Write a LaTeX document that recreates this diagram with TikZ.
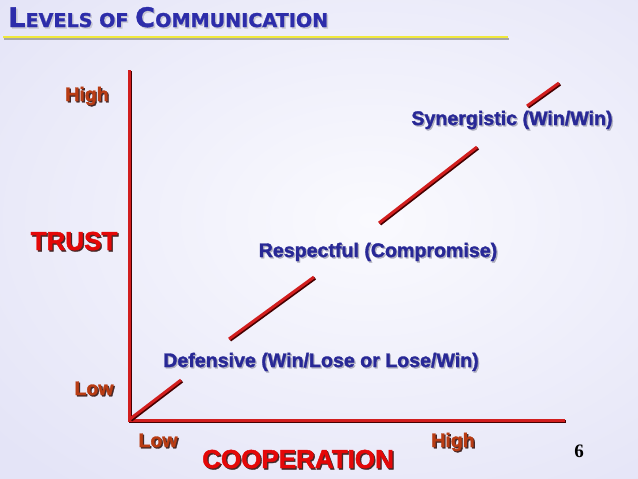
\documentclass[tikz,border=0pt]{standalone}
\usepackage{fontspec}
\setmainfont{Liberation Sans}
\newfontfamily\heavyfont[FakeBold=1.6]{Liberation Sans Bold}
\newfontfamily\titlefont[FakeBold=1.2]{DejaVu Sans Bold}
\newfontfamily\numfont{Liberation Serif}
\definecolor{bgout}{RGB}{228,228,247}
\definecolor{bgin}{RGB}{250,250,254}
\definecolor{lblue}{RGB}{40,40,150}
\definecolor{tblue}{RGB}{45,45,170}
\definecolor{lbrown}{RGB}{185,60,20}
\definecolor{bred}{RGB}{228,8,8}
\definecolor{axred}{RGB}{210,30,30}
\definecolor{axdark}{RGB}{70,0,0}
\definecolor{ulyellow}{RGB}{240,232,60}
\definecolor{shlight}{RGB}{175,175,190}
\definecolor{shdark}{RGB}{70,40,40}
\newcommand\shlbl[5]{%
  \node[#3,text=#4] (#1s) at ([shift={(1.3pt,-1.3pt)}]#2) {#5};
  \node[#3] (#1) at (#2) {#5};}
\begin{document}
\begin{tikzpicture}[x=1pt,y=-1pt,
  lbl/.style={inner sep=0pt,anchor=base,font=\heavyfont\fontsize{19.6}{20}\selectfont,text=lblue},
  tick/.style={inner sep=0pt,anchor=base,font=\heavyfont\fontsize{19.5}{20}\selectfont,text=lbrown},
  axlbl/.style={inner sep=0pt,anchor=base,font=\heavyfont\fontsize{26}{26}\selectfont,text=bred},
  redline/.style={draw=axred,line width=3pt,line cap=butt},
  darkline/.style={draw=axdark,line width=3pt,line cap=butt,transform canvas={shift={(1.2pt,-1.2pt)}}}]
\useasboundingbox (0,0) rectangle (638,479);
\shade[inner color=bgin,outer color=bgout] (-120,-120) rectangle (860,560);
% title
\node[inner sep=0pt,anchor=base west,text=shlight!70] (titles) at (9.5,28.5) {\resizebox{320pt}{20pt}{\titlefont\fontsize{27}{27}\selectfont L{\fontsize{19}{19}\selectfont EVELS OF }C{\fontsize{19}{19}\selectfont OMMUNICATION}}};
\node[inner sep=0pt,anchor=base west,text=tblue] (title) at (8,27) {\resizebox{320pt}{20pt}{\titlefont\fontsize{27}{27}\selectfont L{\fontsize{19}{19}\selectfont EVELS OF }C{\fontsize{19}{19}\selectfont OMMUNICATION}}};
\coordinate (ul1) at (3,37);
\coordinate (ul2) at (508,37);
\draw[draw=gray!70,line width=2pt,transform canvas={shift={(0.8pt,-2pt)}}] (ul1) -- (ul2);
\draw[draw=ulyellow,line width=2.5pt] (ul1) -- (ul2);
% axes
\coordinate (o) at (129,420);
\coordinate (ytop) at (129,70);
\coordinate (xend) at (565,420);
\draw[darkline] (ytop) -- (o) -- (xend);
\draw[redline,line join=miter] (ytop) -- (o) -- (xend);
% diagonal segments
\coordinate (s1a) at (130,419);
\coordinate (s1b) at (181,380);
\coordinate (s2a) at (229,339);
\coordinate (s2b) at (314,277);
\coordinate (s3a) at (379,223);
\coordinate (s3b) at (477,147);
\coordinate (s4a) at (527,106);
\coordinate (s4b) at (559,83);
\foreach \a/\b in {s1a/s1b,s2a/s2b,s3a/s3b,s4a/s4b}{
  \draw[darkline] (\a) -- (\b);
  \draw[redline] (\a) -- (\b);
}
% labels
\coordinate (pSyn) at (512,125);
\coordinate (pRes) at (378,257);
\coordinate (pDef) at (321,367);
\shlbl{syn}{pSyn}{lbl}{shlight}{Synergistic (Win/Win)}
\shlbl{res}{pRes}{lbl}{shlight}{Respectful (Compromise)}
\shlbl{def}{pDef}{lbl}{shlight}{Defensive (Win/Lose or Lose/Win)}
\coordinate (pHighL) at (87,101);
\coordinate (pLowL) at (94,395);
\coordinate (pLowB) at (158,447);
\coordinate (pHighB) at (453,447);
\shlbl{highl}{pHighL}{tick}{shdark}{High}
\shlbl{lowl}{pLowL}{tick}{shdark}{Low}
\shlbl{lowb}{pLowB}{tick}{shdark}{Low}
\shlbl{highb}{pHighB}{tick}{shdark}{High}
\coordinate (pTrust) at (74,250);
\coordinate (pCoop) at (298,468);
\shlbl{trust}{pTrust}{axlbl}{shdark}{TRUST}
\shlbl{coop}{pCoop}{axlbl}{shdark}{COOPERATION}
\node[inner sep=0pt,anchor=base,font=\numfont\bfseries\fontsize{19}{19}\selectfont] (page) at (579,457) {6};
\end{tikzpicture}
\end{document}
